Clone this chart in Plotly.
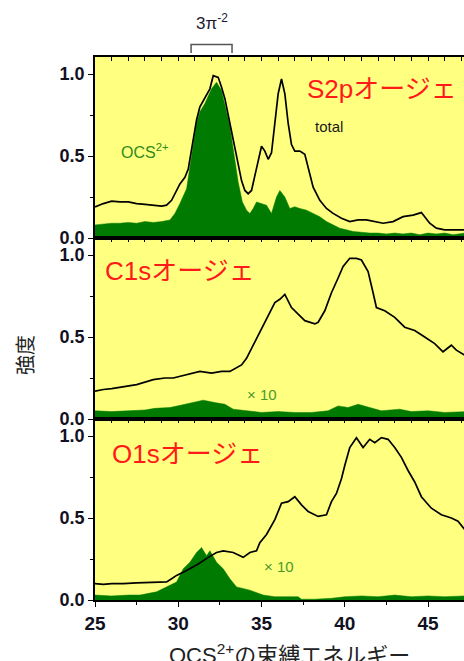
import plotly.graph_objects as go

# ---------------- data ----------------
# S2p Auger panel
s2p_total_x = [25, 25.5, 26, 26.5, 27, 27.5, 28, 28.5, 29, 29.3, 29.6, 30.1, 30.4, 30.6, 30.9, 31.1, 31.3,
               31.7, 31.9, 32.1, 32.4, 32.6, 32.8, 33.1, 33.3, 33.5, 33.8, 34.0, 34.2, 34.4, 34.6, 34.8, 35.0,
               35.2, 35.4, 35.6, 35.8, 36.0, 36.2, 36.4, 36.6, 36.8, 37.0, 37.3, 37.6, 37.8, 38.1, 38.5, 38.9,
               39.3, 39.8, 40.3, 40.8, 41.3, 41.8, 42.3, 42.9, 43.5, 44.1, 44.6, 45.1, 45.5, 46.0, 46.5, 47.2]
s2p_total_y = [0.19, 0.21, 0.225, 0.22, 0.22, 0.21, 0.205, 0.20, 0.195, 0.20, 0.23, 0.33, 0.37, 0.42, 0.60, 0.72, 0.80,
               0.87, 0.91, 0.99, 0.98, 0.92, 0.85, 0.70, 0.60, 0.50, 0.35, 0.29, 0.27, 0.29, 0.38, 0.48, 0.56,
               0.53, 0.48, 0.52, 0.70, 0.88, 0.97, 0.88, 0.70, 0.57, 0.53, 0.53, 0.51, 0.43, 0.31, 0.23, 0.18,
               0.15, 0.12, 0.10, 0.11, 0.11, 0.10, 0.09, 0.10, 0.13, 0.14, 0.155, 0.09, 0.06, 0.05, 0.05, 0.05]
s2p_ocs_x = [25, 25.5, 26, 26.5, 27, 27.5, 28, 28.5, 29, 29.5, 29.8, 30.1, 30.5, 30.8, 31.1, 31.3, 31.6, 32.0,
             32.3, 32.6, 32.9, 33.1, 33.35, 33.6, 33.85, 34.1, 34.3, 34.5, 34.7, 35.0, 35.3, 35.6, 35.9, 36.1,
             36.4, 36.7, 37.0, 37.3, 37.7, 38.1, 38.5, 38.9, 39.3, 39.7, 40.1, 40.5, 41, 41.5, 42, 42.5, 43,
             43.5, 44, 44.5, 45, 45.5, 46, 46.5, 47.2]
s2p_ocs_y = [0.08, 0.085, 0.09, 0.09, 0.095, 0.09, 0.10, 0.095, 0.10, 0.11, 0.15, 0.21, 0.30, 0.50, 0.70, 0.77, 0.82, 0.91,
             0.95, 0.90, 0.77, 0.68, 0.51, 0.34, 0.22, 0.17, 0.15, 0.18, 0.22, 0.21, 0.20, 0.15, 0.25, 0.29,
             0.25, 0.18, 0.19, 0.18, 0.17, 0.15, 0.13, 0.10, 0.08, 0.06, 0.05, 0.04, 0.035, 0.03, 0.03, 0.025, 0.03,
             0.025, 0.03, 0.02, 0.03, 0.025, 0.03, 0.02, 0.03]

# C1s Auger panel
c1s_total_x = [25, 25.5, 26, 26.7, 27.5, 28.5, 29.2, 29.7, 30.5, 31.3, 32.0, 32.6, 33.1, 33.5, 33.8, 34.1, 34.3,
               34.7, 35.1, 35.4, 35.8, 36.1, 36.4, 36.8, 37.2, 37.6, 38.2, 38.4, 38.8, 39.2, 39.6, 39.9, 40.3,
               40.7, 41.0, 41.4, 41.7, 41.9, 42.4, 43.0, 43.6, 44.2, 44.8, 45.4, 45.9, 46.4, 46.7, 47.2]
c1s_total_y = [0.17, 0.18, 0.185, 0.195, 0.21, 0.24, 0.25, 0.25, 0.27, 0.29, 0.28, 0.29, 0.29, 0.31, 0.33, 0.37, 0.41,
               0.49, 0.57, 0.63, 0.71, 0.73, 0.76, 0.68, 0.64, 0.60, 0.58, 0.59, 0.66, 0.77, 0.86, 0.93, 0.98,
               0.98, 0.97, 0.90, 0.77, 0.68, 0.66, 0.62, 0.56, 0.54, 0.50, 0.46, 0.41, 0.45, 0.42, 0.39]
c1s_ocs_x = [25, 26, 27, 28, 28.6, 29.5, 30.2, 30.8, 31.5, 32.2, 32.8, 33.3, 34, 35, 36, 37, 38, 39, 39.6,
             40.2, 40.8, 41.5, 42.2, 43.3, 44, 45, 46, 47.2]
c1s_ocs_y = [0.05, 0.045, 0.05, 0.055, 0.065, 0.07, 0.085, 0.10, 0.115, 0.10, 0.09, 0.06, 0.05, 0.04, 0.045, 0.04, 0.04,
             0.05, 0.08, 0.07, 0.09, 0.07, 0.05, 0.06, 0.045, 0.05, 0.04, 0.045]

# O1s Auger panel
o1s_total_x = [25, 25.5, 26, 26.7, 27.5, 28.7, 29.3, 29.6, 29.9, 30.5, 31.2, 31.8, 32.3, 32.7, 33.3, 33.9, 34.3,
               34.7, 34.9, 35.3, 35.8, 36.2, 36.6, 37.0, 37.4, 37.8, 38.4, 38.9, 39.2, 39.5, 39.8, 40.0, 40.3,
               40.7, 41.1, 41.5, 41.8, 42.2, 42.6, 43.0, 43.4, 43.8, 44.2, 44.6, 45.2, 45.8, 46.4, 46.8, 47.2]
o1s_total_y = [0.10, 0.095, 0.10, 0.10, 0.105, 0.11, 0.11, 0.13, 0.15, 0.18, 0.22, 0.26, 0.29, 0.30, 0.29, 0.26, 0.29,
               0.30, 0.35, 0.40, 0.49, 0.59, 0.60, 0.63, 0.58, 0.54, 0.51, 0.52, 0.60, 0.65, 0.74, 0.82, 0.93,
               0.99, 0.93, 0.98, 0.96, 0.99, 0.98, 0.93, 0.87, 0.79, 0.72, 0.63, 0.56, 0.52, 0.50, 0.48, 0.43]
o1s_ocs_x = [25, 26, 27, 27.7, 28.7, 29.3, 29.9, 30.3, 30.7, 31.1, 31.4, 31.7, 31.9, 32.3, 32.7, 33.1, 33.5,
             34.3, 35.1, 35.8, 36.5, 37.2, 37.4, 38.2, 39.2, 40, 41, 42, 43, 44, 45, 46, 47.2]
o1s_ocs_y = [0.03, 0.025, 0.03, 0.03, 0.05, 0.08, 0.11, 0.19, 0.23, 0.29, 0.32, 0.27, 0.30, 0.23, 0.19, 0.13, 0.08,
             0.06, 0.03, 0.02, 0.02, 0.02, 0.005, 0.005, 0.01, 0.02, 0.025, 0.02, 0.03, 0.02, 0.025, 0.02, 0.025]

x_tick_vals = [25, 30, 35, 40, 45]
y_tick_vals = [0.0, 0.5, 1.0]
y_tick_text = ["0.0", "0.5", "1.0"]

panel_labels = ["S2pオージェ", "C1sオージェ", "O1sオージェ"]

# ---------------- styles ----------------
GREEN = "#007a00"
BG = "#ffff80"
FONT = "Liberation Sans, Arial, Noto Sans CJK JP, sans-serif"
XR = [25, 47.16]
YR = [0, 1.104]

fig = go.Figure()

# (total_x, total_y, ocs_x, ocs_y, bottom x-axis, y-axis, top tick x-axis, y domain)
panels = [
    (s2p_total_x, s2p_total_y, s2p_ocs_x, s2p_ocs_y, "x", "y", "x4", [2/3, 1]),
    (c1s_total_x, c1s_total_y, c1s_ocs_x, c1s_ocs_y, "x2", "y2", "x5", [1/3, 2/3]),
    (o1s_total_x, o1s_total_y, o1s_ocs_x, o1s_ocs_y, "x3", "y3", "x6", [0, 1/3]),
]

tickfont = dict(family=FONT, size=18, color="#111122", weight="bold")

for i, (tx, ty, gx, gy, xa, ya, xt, dom) in enumerate(panels):
    fig.add_trace(go.Scatter(x=gx, y=gy, mode="lines", fill="tozeroy", fillcolor=GREEN,
                             line=dict(color=GREEN, width=0.5), xaxis=xa, yaxis=ya,
                             showlegend=False, hoverinfo="skip"))
    fig.add_trace(go.Scatter(x=tx, y=ty, mode="lines", line=dict(color="black", width=1.7),
                             xaxis=xa, yaxis=ya, showlegend=False))
    # invisible trace for top tick axis
    fig.add_trace(go.Scatter(x=[XR[0]], y=[-1], mode="markers", marker=dict(opacity=0),
                             xaxis=xt, yaxis=ya, showlegend=False, hoverinfo="skip"))
    last = (i == 2)
    xname = "xaxis" if xa == "x" else "xaxis" + xa[1:]
    yname = "yaxis" if ya == "y" else "yaxis" + ya[1:]
    xtname = "xaxis" + xt[1:]
    xdict = dict(range=XR, anchor=ya, domain=[0, 1], showline=True, mirror=True, linecolor="black",
                 linewidth=1.5, showgrid=False, zeroline=False, automargin=False, fixedrange=True)
    if last:
        xdict.update(ticks="outside", ticklen=5, tickwidth=1.2, tickcolor="black", tickvals=x_tick_vals,
                     minor=dict(dtick=2.5, tick0=25, ticks="outside", ticklen=3, tickcolor="black"),
                     tickfont=dict(family=FONT, size=19, color="#111122", weight="bold"))
    else:
        xdict.update(ticks="", showticklabels=False)
    fig.update_layout(**{
        xname: xdict,
        yname: dict(domain=dom, anchor=xa, range=YR, showline=True, linecolor="black", linewidth=1.5,
                    ticks="outside", ticklen=5, tickwidth=1.2, tickcolor="black",
                    tickvals=y_tick_vals, ticktext=y_tick_text,
                    minor=dict(dtick=0.25, tick0=0, ticks="outside", ticklen=3, tickcolor="black"),
                    showgrid=False, zeroline=False, tickfont=tickfont, automargin=False, fixedrange=True),
        xtname: dict(range=XR, anchor=ya, overlaying=xa, side="top", ticks="inside", ticklen=4,
                     tickwidth=1.2, tickcolor="black", dtick=1, tick0=25, showticklabels=False,
                     showgrid=False, zeroline=False, showline=False, automargin=False, fixedrange=True),
    })

fig.update_layout(
    width=464, height=661,
    margin=dict(l=95, r=0, t=57, b=61, autoexpand=False),
    paper_bgcolor="white", plot_bgcolor=BG,
    font=dict(family=FONT),
)

# panel labels (red)
label_pos = [(305, 89), (103, 271), (110, 454)]
for txt, (px, py) in zip(panel_labels, label_pos):
    fig.add_annotation(text=txt, x=(px - 95) / 369, y=(600 - py) / 543, xref="paper", yref="paper",
                       xanchor="left", yanchor="middle", showarrow=False,
                       font=dict(family=FONT, size=26, color="#ff1a1a"))

fig.add_annotation(text="total", x=(313 - 95) / 369, y=(600 - 126) / 543, xref="paper", yref="paper",
                   xanchor="left", yanchor="middle", showarrow=False,
                   font=dict(family=FONT, size=15, color="#1a1a1a"))
fig.add_annotation(text="OCS<sup>2+</sup>", x=(119 - 95) / 369, y=(600 - 151) / 543, xref="paper", yref="paper",
                   xanchor="left", yanchor="middle", showarrow=False,
                   font=dict(family=FONT, size=16, color="#2f8a1a"))
for px, py in [(245, 394), (262, 566)]:
    fig.add_annotation(text="× 10", x=(px - 95) / 369, y=(600 - py) / 543, xref="paper", yref="paper",
                       xanchor="left", yanchor="middle", showarrow=False,
                       font=dict(family=FONT, size=15, color="#4a9a2a"))

# 3π^-2 label and bracket
fig.add_annotation(text="3π<sup>-2</sup>", x=(212 - 95) / 369, y=(600 - 22) / 543, xref="paper", yref="paper",
                   xanchor="center", yanchor="middle", showarrow=False,
                   font=dict(family=FONT, size=17, color="#1a1a33"))
fig.add_shape(type="path", xref="x", yref="paper",
              path=f"M 30.77 {(600-53)/543} L 30.77 {(600-44.5)/543} L 33.23 {(600-44.5)/543} L 33.23 {(600-53)/543}",
              line=dict(color="#555555", width=1.5))

# axis titles
fig.add_annotation(text="強度", x=(25 - 95) / 369, y=(600 - 355) / 543, xref="paper", yref="paper",
                   textangle=-90, xanchor="center", yanchor="middle", showarrow=False,
                   font=dict(family="Noto Sans CJK JP, sans-serif", size=20, color="#222222"))
fig.add_annotation(text="OCS<sup>2+</sup>の束縛エネルギー", x=(289 - 95) / 369, y=(600 - 654) / 543,
                   xref="paper", yref="paper", xanchor="center", yanchor="middle", showarrow=False,
                   font=dict(family=FONT, size=22, color="#222222"))

fig.write_html("out.html", config={"displayModeBar": False},
               post_script="document.body.style.margin='0';document.body.style.overflow='hidden';")
